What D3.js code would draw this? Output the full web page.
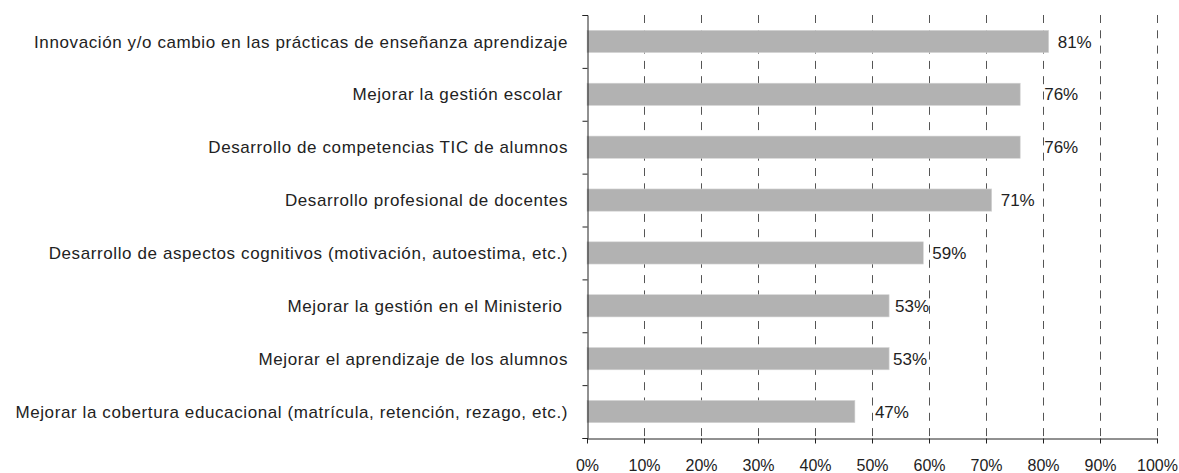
<!DOCTYPE html>
<html>
<head>
<meta charset="utf-8">
<script src="https://cdn.jsdelivr.net/npm/d3@7"></script>
<style>
body { margin: 0; background: #fff; }
text { font-family: "Liberation Sans", Arial, sans-serif; fill: #222; }
</style>
</head>
<body>
<div id="viz"></div>
<script>
var categories = [
	'Innovación y/o cambio en las prácticas de enseñanza aprendizaje',
	'Mejorar la gestión escolar ',
	'Desarrollo de competencias TIC de alumnos',
	'Desarrollo profesional de docentes',
	'Desarrollo de aspectos cognitivos (motivación, autoestima, etc.)',
	'Mejorar la gestión en el Ministerio ',
	'Mejorar el aprendizaje de los alumnos',
	'Mejorar la cobertura educacional (matrícula, retención, rezago, etc.)'
];
var values = [0.81, 0.76, 0.76, 0.71, 0.59, 0.53, 0.53, 0.47];
var xTicks = [0, 0.1, 0.2, 0.3, 0.4, 0.5, 0.6, 0.7, 0.8, 0.9, 1];
// label nudges as placed in the original chart
var labelNudge = [9, 24, 24, 9, 9, 6, 4, 20];

var w = 1179,
	h = 473,
	margin = {top: 15, right: 22, bottom: 35, left: 587},
	font_size = 16,
	cat_font_size = 17;

var svg = d3.select('#viz').append('svg')
	.attr('width', w)
	.attr('height', h);

var x = d3.scaleLinear()
	.domain([0, 1])
	.range([margin.left, w - margin.right]);

var y = d3.scaleBand()
	.domain(categories)
	.range([margin.top, h - margin.bottom])
	.paddingInner(0.58)
	.paddingOuter(0.29);

// boundaries between categories (for the y axis ticks)
var yEdge = d3.scaleLinear()
	.domain([0, categories.length])
	.range([margin.top, h - margin.bottom]);

//GRID
svg.append('g')
	.attr('class', 'grid')
	.selectAll('line')
	.data(xTicks.filter(function(d){ return d > 0; }))
	.enter().append('line')
		.attr('x1', function(d){ return Math.round(x(d)) + 0.5; })
		.attr('x2', function(d){ return Math.round(x(d)) + 0.5; })
		.attr('y1', margin.top)
		.attr('y2', h - margin.bottom)
		.attr('stroke', '#555')
		.attr('stroke-width', 1)
		.attr('stroke-dasharray', '8,7.3');

//BARS
svg.append('g')
	.selectAll('rect')
	.data(values)
	.enter().append('rect')
		.attr('x', x(0))
		.attr('y', function(d,i){ return y(categories[i]); })
		.attr('width', function(d){ return x(d) - x(0); })
		.attr('height', y.bandwidth())
		.attr('fill', '#b2b2b2')
		.attr('stroke', '#d4d4d4')
		.attr('stroke-width', 0.6);

//VALUE LABELS
svg.append('g')
	.selectAll('text')
	.data(values)
	.enter().append('text')
		.attr('x', function(d,i){ return x(d) + labelNudge[i]; })
		.attr('y', function(d,i){ return y(categories[i]) + y.bandwidth() / 2; })
		.attr('dy', '0.36em')
		.style('font-size', (font_size + 1) + 'px')
		.text(function(d){ return d3.format('.0%')(d); });

//CATEGORY LABELS
svg.append('g')
	.selectAll('text')
	.data(categories)
	.enter().append('text')
		.attr('x', margin.left - 19)
		.attr('y', function(d){ return y(d) + y.bandwidth() / 2; })
		.attr('dy', '0.36em')
		.attr('text-anchor', 'end')
		.style('font-size', cat_font_size + 'px')
		.style('letter-spacing', '0.6px')
		.style('white-space', 'pre')
		.text(function(d){ return d; });

//AXES
var yAxis = svg.append('g')
	.attr('transform', 'translate(' + (x(0) + 0.5) + ',0)')
	.call(d3.axisLeft(yEdge).tickValues(d3.range(categories.length + 1)).tickSize(5).tickFormat(''));

var xAxis = svg.append('g')
	.attr('transform', 'translate(0,' + (Math.round(h - margin.bottom) + 0.5) + ')')
	.call(d3.axisBottom(x).tickValues(xTicks).tickSize(5).tickSizeOuter(0).tickPadding(16).tickFormat(d3.format('.0%')));

xAxis.selectAll('text')
	.style('font-size', font_size + 'px')
	.attr('fill', '#222');

svg.selectAll('.domain, .tick line')
	.attr('stroke', '#222');
</script>
</body>
</html>
